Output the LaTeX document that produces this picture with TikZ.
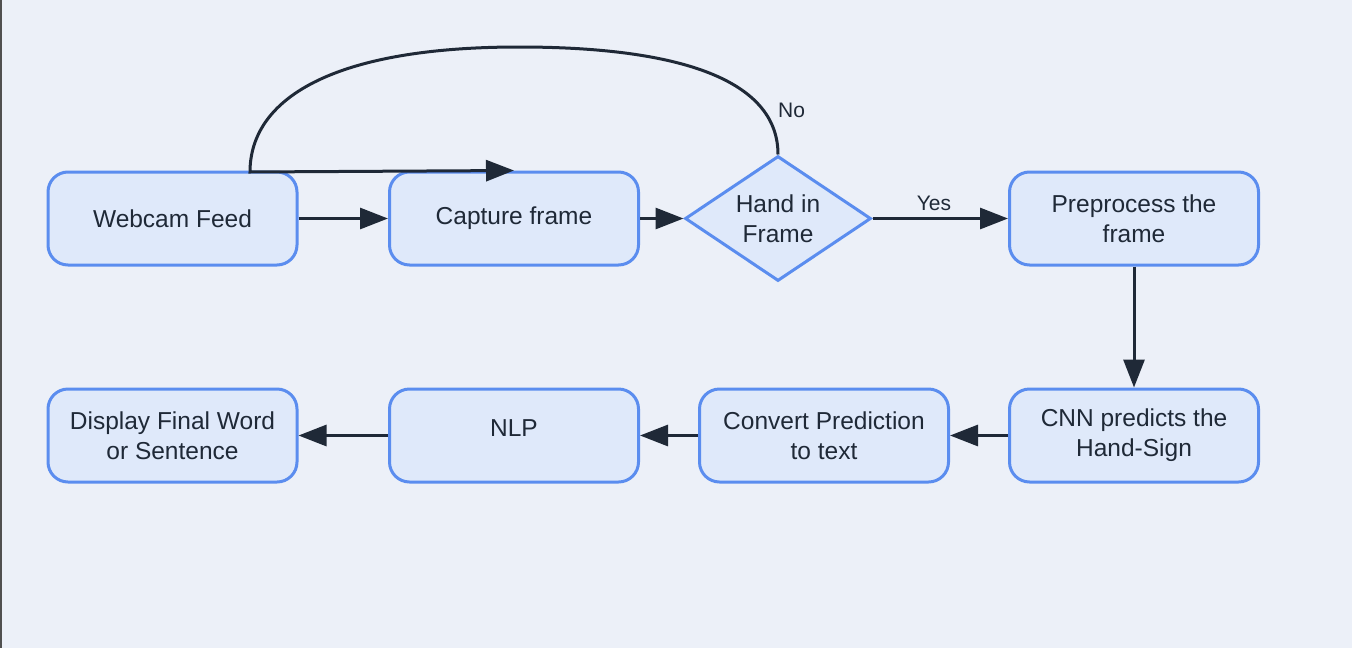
\documentclass[tikz,border=0pt]{standalone}
\usepackage{fontspec}
\setmainfont{Liberation Sans}
\usetikzlibrary{arrows.meta,shapes.geometric}
\definecolor{bgc}{HTML}{ECF0F8}
\definecolor{boxfill}{HTML}{DFE9FA}
\definecolor{boxline}{HTML}{5B8DEF}
\definecolor{edgec}{HTML}{1F2937}
\definecolor{txtc}{HTML}{1F2937}
\definecolor{framec}{HTML}{505050}
\begin{document}
\begin{tikzpicture}[x=0.5pt,y=-0.5pt,
  box/.style={draw=boxline,fill=boxfill,line width=1.5pt,rounded corners=10pt,
    minimum width=124.5pt,minimum height=46.5pt,inner sep=0pt,align=center,
    text=txtc,font=\fontsize{12.25}{15}\selectfont},
  decision/.style={diamond,draw=boxline,fill=boxfill,line width=1.5pt,aspect=1.49,
    minimum width=93pt,minimum height=62.5pt,inner sep=0pt,align=center,
    text=txtc,font=\fontsize{12.25}{15}\selectfont},
  edge/.style={draw=edgec,line width=1.5pt,-{Triangle[length=14pt,width=10.5pt]}},
  lbl/.style={text=txtc,font=\fontsize{10.5}{12}\selectfont,inner sep=1pt}]
\useasboundingbox (0,0) rectangle (1352,648);
\fill[bgc] (0,0) rectangle (1352,648);
\draw[framec,line width=1pt] (1,0) -- (1,648);

\node[box] (web) at (172.5,218.5) {Webcam Feed};
\node[box] (cap) at (514,218.5) {Capture frame};
\node[decision] (dia) at (778,218.5) {Hand in\\Frame};
\node[box] (pre) at (1134,218.5) {Preprocess the\\frame};
\node[box] (cnn) at (1134,435.5) {CNN predicts the\\Hand-Sign};
\node[box] (conv) at (824,435.5) {Convert Prediction\\to text};
\node[box] (nlp) at (514,435.5) {NLP\\[-7.5pt]\mbox{}};
\node[box] (disp) at (172.5,435.5) {Display Final Word\\or Sentence};

\coordinate (loopT) at (519,47);
\coordinate (loopL) at (250,172);

\draw[edge] (web.east) -- (cap.west);
\draw[edge] (cap.east) -- (dia.west);
\draw[edge] (dia.east) -- (pre.west);
\draw[edge] (pre.south) -- (cnn.north);
\draw[edge] (cnn.west) -- (conv.east);
\draw[edge] (conv.west) -- (nlp.east);
\draw[edge] (nlp.west) -- (disp.east);
\draw[edge] (dia.north) .. controls (778,80) and (680,47) .. (loopT)
  .. controls (330,47) and (250,100) .. (loopL) -- (cap.north);

\node[lbl] (yes) at (934,203.5) {Yes};
\node[lbl] (no) at (791.5,110) {No};
\end{tikzpicture}
\end{document}
